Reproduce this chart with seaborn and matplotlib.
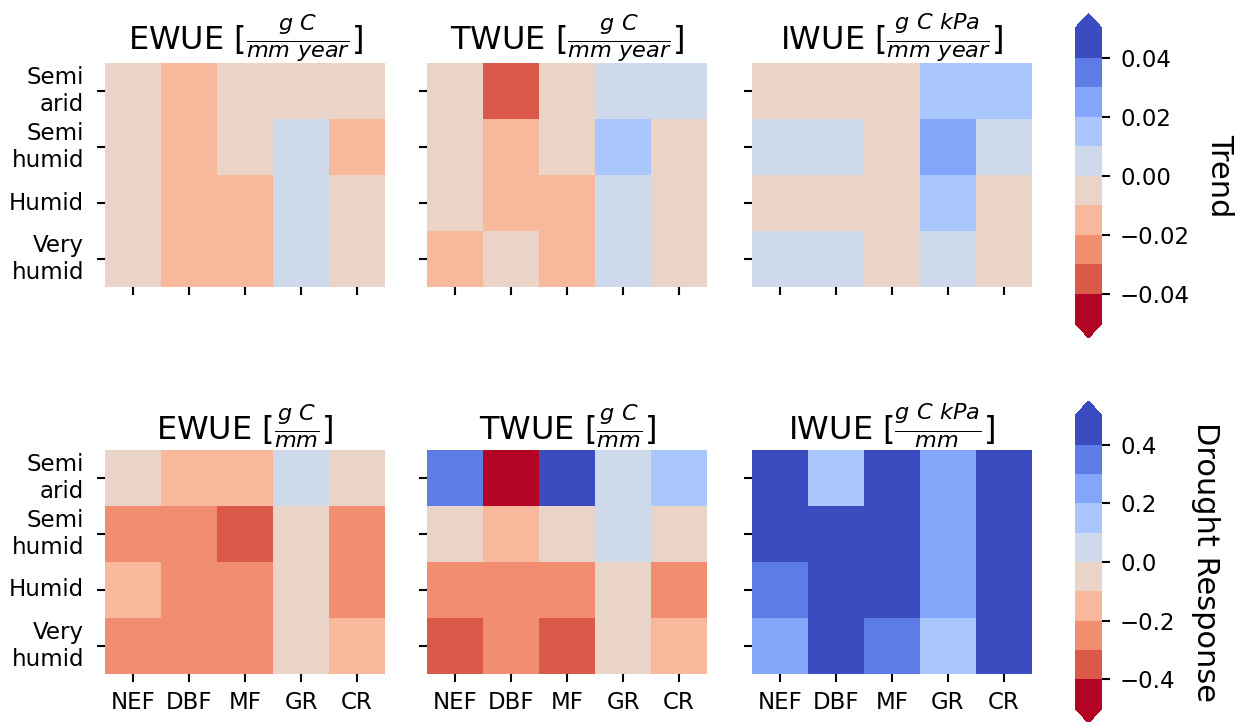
import numpy as np
import pandas as pd
import matplotlib
matplotlib.use("Agg")
import matplotlib.pyplot as plt
import seaborn as sns

# --- Data ---
climates = ["Semi\narid", "Semi\nhumid", "Humid", "Very\nhumid"]
pfts = ["NEF", "DBF", "MF", "GR", "CR"]

# trends (rows = climate, cols = PFT)
ewue_trend = [[-0.004, -0.013, -0.006, -0.002, -0.005],
              [-0.003, -0.015, -0.007, 0.004, -0.012],
              [-0.006, -0.014, -0.011, 0.003, -0.004],
              [-0.005, -0.016, -0.012, 0.002, -0.003]]
twue_trend = [[-0.006, -0.034, -0.004, 0.003, 0.002],
              [-0.005, -0.013, -0.007, 0.014, -0.004],
              [-0.003, -0.015, -0.012, 0.005, -0.006],
              [-0.011, -0.008, -0.014, 0.004, -0.005]]
iwue_trend = [[-0.004, -0.006, -0.003, 0.016, 0.013],
              [0.004, 0.006, -0.005, 0.024, 0.003],
              [-0.007, -0.004, -0.002, 0.012, -0.006],
              [0.005, 0.003, -0.008, 0.007, -0.004]]

# drought responses
ewue_drought = [[-0.05, -0.14, -0.12, 0.04, -0.07],
                [-0.24, -0.22, -0.33, -0.06, -0.27],
                [-0.16, -0.23, -0.25, -0.04, -0.21],
                [-0.26, -0.22, -0.24, -0.03, -0.15]]
twue_drought = [[0.36, -0.62, 0.55, 0.03, 0.14],
                [-0.06, -0.13, -0.04, 0.05, -0.08],
                [-0.22, -0.26, -0.24, -0.05, -0.27],
                [-0.34, -0.23, -0.36, -0.07, -0.12]]
iwue_drought = [[0.71, 0.16, 0.63, 0.27, 0.85],
                [0.58, 0.67, 0.74, 0.24, 0.92],
                [0.37, 0.52, 0.61, 0.26, 0.78],
                [0.25, 0.56, 0.33, 0.17, 0.69]]

trend_titles = [r"EWUE [$\frac{g\ C}{mm\ year}$]",
                r"TWUE [$\frac{g\ C}{mm\ year}$]",
                r"IWUE [$\frac{g\ C\ kPa}{mm\ year}$]"]
drought_titles = [r"EWUE [$\frac{g\ C}{mm}$]",
                  r"TWUE [$\frac{g\ C}{mm}$]",
                  r"IWUE [$\frac{g\ C\ kPa}{mm}$]"]

trend_ticks = [-0.04, -0.02, 0.00, 0.02, 0.04]
drought_ticks = [-0.4, -0.2, 0.0, 0.2, 0.4]

# --- Style ---
sns.set_style("ticks")
plt.rcParams.update({
    "font.family": ["DejaVu Sans"],
    "text.color": "black",
    "axes.labelcolor": "black",
    "xtick.color": "black",
    "ytick.color": "black",
    "xtick.labelsize": 16.5,
    "ytick.labelsize": 16.5,
    "xtick.major.size": 6,
    "ytick.major.size": 6,
    "xtick.major.width": 1.5,
    "ytick.major.width": 1.5,
    "xtick.major.pad": 6,
    "ytick.major.pad": 9,
})

cmap = matplotlib.colormaps["coolwarm_r"].resampled(10)

W, H = 1248, 722
fig = plt.figure(figsize=(W / 100, H / 100), dpi=100)

col_left = [105, 427, 752]
ax_w = 280
row_top = [63, 450]
ax_h = 224

rows = [
    ([ewue_trend, twue_trend, iwue_trend], trend_titles, 0.05),
    ([ewue_drought, twue_drought, iwue_drought], drought_titles, 0.5),
]

meshes = []
for r, (panels, titles, lim) in enumerate(rows):
    for c, (vals, title) in enumerate(zip(panels, titles)):
        ax = fig.add_axes([col_left[c] / W, 1 - (row_top[r] + ax_h) / H, ax_w / W, ax_h / H])
        df = pd.DataFrame(vals, index=climates, columns=pfts)
        sns.heatmap(df, ax=ax, cmap=cmap, vmin=-lim, vmax=lim, cbar=False)
        ax.set_title(title, fontsize=23, pad=7)
        ax.set_xlabel("")
        ax.set_ylabel("")
        ax.tick_params(axis="y", rotation=0)
        ax.tick_params(axis="x", rotation=0)
        if c > 0:
            ax.tick_params(labelleft=False)
        if r == 0:
            ax.tick_params(labelbottom=False)
        if c == 2:
            meshes.append(ax.collections[0])

# --- Colorbars ---
cb_specs = [
    (meshes[0], 13.5, 338, trend_ticks, "Trend"),
    (meshes[1], 401, 723, drought_ticks, "Drought Response"),
]
for mesh, top, bot, ticks, label in cb_specs:
    cax = fig.add_axes([1075 / W, 1 - bot / H, 27 / W, (bot - top) / H])
    cb = fig.colorbar(mesh, cax=cax, extend="both", ticks=ticks)
    cb.outline.set_visible(False)
    cb.ax.tick_params(labelsize=16.5, length=6, width=1.5, pad=7)
    cb.set_label(label, rotation=270, fontsize=22, labelpad=32)

fig.savefig("out.png", dpi=100)
